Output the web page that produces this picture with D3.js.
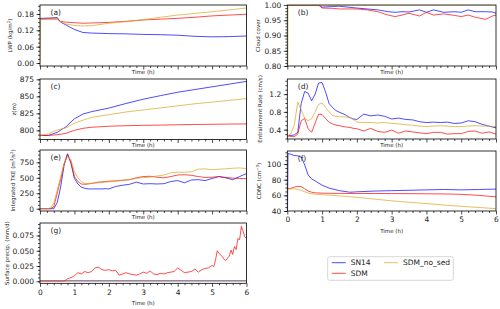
<!DOCTYPE html>
<html>
<head>
<meta charset="utf-8">
<script src="https://cdnjs.cloudflare.com/ajax/libs/d3/7.8.5/d3.min.js"></script>
<style>
body { margin: 0; background: white; }
text { font-family: "DejaVu Sans", sans-serif; }
</style>
</head>
<body>
<script>

// series names + colours (legend order)
var names = ["SN14", "SDM", "SDM_no_sed"];
var colors = ["blue", "red", "goldenrod"];
var hours = [0, 1, 2, 3, 4, 5, 6];

// (a) liquid water path
var lwp_t     = [0, 0.02, 0.25, 0.5, 0.6, 0.75, 1, 1.25, 1.5, 2, 2.5, 3, 3.5, 4, 4.5, 5, 5.5, 6];
var lwp_sn14  = [0.164, 0.164, 0.165, 0.167, 0.150, 0.140, 0.123, 0.112, 0.110, 0.108, 0.107, 0.105, 0.104, 0.102, 0.098, 0.096, 0.097, 0.099];
var lwp_sdm   = [0.161, 0.161, 0.162, 0.162, 0.153, 0.150, 0.148, 0.146, 0.147, 0.149, 0.153, 0.158, 0.161, 0.164, 0.168, 0.173, 0.176, 0.179];
var lwp_nosed = [0, 0.160, 0.160, 0.160, 0.152, 0.143, 0.138, 0.136, 0.137, 0.146, 0.152, 0.159, 0.168, 0.176, 0.182, 0.188, 0.195, 0.202];

// (b) cloud cover
var cc_t     = [0, 0.02, 0.5, 0.9, 1, 1.3, 1.5, 2, 2.3, 2.6, 2.9, 3.1, 3.3, 3.5, 3.8, 4, 4.2, 4.5, 4.8, 5, 5.2, 5.4, 5.7, 5.9, 6];
var cc_sn14  = [1.0, 1.0, 1.0, 1.0, 0.993, 0.995, 0.996, 0.990, 0.987, 0.984, 0.978, 0.976, 0.978, 0.977, 0.984, 0.976, 0.984, 0.976, 0.978, 0.976, 0.984, 0.978, 0.978, 0.977, 0.973];
var cc_sdm   = [1.0, 1.0, 1.0, 1.0, 0.990, 0.989, 0.987, 0.987, 0.984, 0.978, 0.967, 0.962, 0.967, 0.973, 0.964, 0.976, 0.967, 0.971, 0.966, 0.962, 0.967, 0.960, 0.953, 0.964, 0.967];
var cc_nosed = [0, 0.999, 0.998, 0.998, 1.0, 1.0, 1.0, 1.0, 1.0, 1.0, 1.0, 1.0, 1.0, 1.0, 1.0, 1.0, 1.0, 1.0, 1.0, 1.0, 1.0, 1.0, 1.0, 1.0, 1.0];

// (c) inversion height
var z_t     = [0, 0.25, 0.5, 0.75, 1, 1.25, 1.5, 2, 2.5, 3, 3.5, 4, 4.5, 5, 5.5, 6];
var z_sn14  = [792.5, 792.5, 797, 805, 817, 824, 827.5, 832.7, 839.5, 845.8, 851, 856, 860, 864, 868, 872];
var z_sdm   = [792.5, 792.5, 793.5, 795.5, 800, 803, 804.5, 806, 806.8, 807.3, 807.7, 808.2, 808.6, 808.9, 809.2, 809.4];
var z_nosed = [792.5, 795, 800.5, 803.5, 810.5, 815, 819, 823, 827, 830, 833, 836, 839, 841.5, 844, 846.7];

// (d) entrainment rate, (e) integrated TKE share one time axis
var ent_t = [0, 0.1, 0.2, 0.3, 0.4, 0.5, 0.6, 0.7, 0.8, 0.9, 1.0, 1.1, 1.2, 1.3, 1.4, 1.5, 1.6, 1.7, 1.8, 1.9, 2.0,
             2.2, 2.4, 2.6, 2.8, 3.0, 3.2, 3.4, 3.6, 3.8, 4.0, 4.2, 4.4, 4.6, 4.8, 5.0, 5.2, 5.4, 5.6, 5.8, 6.0];
var ent_sn14  = [0.26, 0.27, 0.28, 0.34, 0.99, 1.26, 1.22, 1.05, 1.2, 1.45, 1.46, 1.25, 0.99, 0.9, 0.83, 0.79, 0.76, 0.72, 0.67, 0.64, 0.63,
                 0.75, 0.71, 0.73, 0.70, 0.64, 0.66, 0.63, 0.62, 0.58, 0.56, 0.57, 0.56, 0.57, 0.54, 0.55, 0.60, 0.58, 0.52, 0.48, 0.44];
var ent_sdm   = [0.26, 0.25, 0.24, 0.30, 0.60, 0.65, 0.42, 0.34, 0.55, 0.75, 0.74, 0.65, 0.57, 0.53, 0.50, 0.49, 0.47, 0.46, 0.45, 0.43, 0.42,
                 0.37, 0.43, 0.36, 0.34, 0.39, 0.32, 0.37, 0.35, 0.33, 0.31, 0.34, 0.34, 0.30, 0.31, 0.31, 0.36, 0.37, 0.32, 0.35, 0.30];
var ent_nosed = [0.26, 0.30, 0.50, 1.02, 0.85, 0.66, 0.60, 0.65, 0.80, 0.97, 1.00, 0.90, 0.80, 0.72, 0.70, 0.69, 0.69, 0.68, 0.67, 0.63, 0.57,
                 0.56, 0.56, 0.55, 0.56, 0.54, 0.53, 0.51, 0.50, 0.48, 0.47, 0.48, 0.49, 0.48, 0.47, 0.47, 0.48, 0.49, 0.48, 0.48, 0.47];

var tke_sn14  = [0, 0, 0, 0, 0, 100, 350, 700, 890, 730, 490, 400, 350, 330, 320, 320, 320, 320, 320, 325, 320,
                 360, 380, 395, 430, 400, 405, 400, 405, 440, 455, 420, 465, 470, 455, 490, 520, 500, 470, 520, 570];
var tke_sdm   = [0, 0, 0, 0, 30, 250, 470, 730, 880, 760, 520, 440, 400, 395, 400, 410, 420, 430, 435, 440, 445,
                 450, 460, 470, 500, 520, 525, 510, 500, 520, 545, 550, 540, 520, 505, 510, 520, 505, 495, 490, 485];
var tke_nosed = [0, 0, 0, 10, 90, 300, 520, 730, 840, 790, 600, 500, 440, 410, 405, 410, 415, 420, 425, 430, 435,
                 445, 460, 470, 490, 505, 510, 530, 545, 580, 590, 590, 600, 640, 645, 630, 640, 645, 655, 660, 650];

// (f) cloud droplet number concentration
var cdnc_t     = [0, 0.02, 0.1, 0.2, 0.3, 0.4, 0.5, 0.6, 0.7, 0.8, 1.0, 1.2, 1.5, 1.8, 2, 2.5, 3, 3.5, 4, 4.5, 5, 5.5, 6];
var cdnc_sn14  = [0, 113.5, 112.5, 111, 110.5, 109, 99, 86, 81, 78.5, 73, 69.3, 66, 64, 64.5, 65.5, 66, 66.5, 67, 67.5, 67, 67.5, 68];
var cdnc_sdm   = [68.5, 68.5, 69, 70.5, 71.5, 71, 68.5, 65.5, 64, 63.2, 62.8, 62.6, 62.5, 62.4, 62.4, 62.4, 62.3, 62.2, 62, 61.8, 61.3, 60, 58];
var cdnc_nosed = [68, 68, 68.2, 68.5, 67.5, 66.5, 64.5, 63, 62, 61.5, 60.8, 60.2, 59.3, 58.2, 57.5, 55.2, 53, 51.2, 49.5, 47.6, 46, 44.5, 43];

// (g) surface precipitation
var pr_t = [0, 0.1, 0.2, 0.3, 0.4, 0.5, 0.6, 0.7, 0.8, 0.9, 1.0, 1.1, 1.2, 1.3, 1.4, 1.5, 1.6, 1.7, 1.8, 1.9, 2.0,
            2.1, 2.2, 2.3, 2.4, 2.5, 2.6, 2.7, 2.8, 2.9, 3.0, 3.1, 3.2, 3.3, 3.4, 3.5, 3.6, 3.7, 3.8, 3.9, 4.0,
            4.1, 4.2, 4.3, 4.4, 4.5, 4.6, 4.7, 4.8, 4.9, 5.0, 5.05, 5.1, 5.15, 5.2, 5.25, 5.3, 5.35, 5.4, 5.45, 5.5,
            5.55, 5.6, 5.65, 5.7, 5.75, 5.8, 5.85, 5.9, 5.95, 6.0];
var pr_sdm = [0, 0, 0, 0, 0, 0, 0, 0, 0.004, 0.006, 0.009, 0.014, 0.012, 0.016, 0.014, 0.016, 0.022, 0.023, 0.019, 0.018, 0.019,
              0.017, 0.018, 0.010, 0.012, 0.014, 0.012, 0.011, 0.010, 0.012, 0.015, 0.013, 0.017, 0.012, 0.011, 0.013, 0.012, 0.014, 0.015, 0.016, 0.022,
              0.018, 0.014, 0.015, 0.016, 0.020, 0.015, 0.019, 0.021, 0.022, 0.026, 0.024, 0.035, 0.050, 0.046, 0.043, 0.040, 0.036, 0.034, 0.038, 0.041,
              0.051, 0.044, 0.057, 0.052, 0.070, 0.068, 0.090, 0.082, 0.073, 0.070];
var pr_zero_t = [0, 6];
var pr_sn14   = [0.0008, 0.0008];
var pr_nosed  = [0, 0];


var svg = d3.select("body").append("svg")
    .attr("width", 500)
    .attr("height", 309);

// panel layout
var panels = [
    {id: "a", x0: 40, x1: 246.5, y0: 5, y1: 66, ydom: [-0.011, 0.213], yticks: [0, 0.06, 0.12, 0.18], ystep: 0.015, fmt: ".2f",
     label: [["LWP (kg/m"], ["2", true], [")"]], lx: 9.5, xlab: false,
     series: [[lwp_t, lwp_sn14], [lwp_t, lwp_sdm], [lwp_t, lwp_nosed]]},
    {id: "b", x0: 287.3, x1: 496, y0: 5, y1: 66, ydom: [0.8, 1.0], yticks: [0.8, 0.85, 0.9, 0.95, 1.0], ystep: 0.01, fmt: ".2f",
     label: [["Cloud cover"]], lx: 257.5, xlab: false,
     series: [[cc_t, cc_sn14], [cc_t, cc_sdm], [cc_t, cc_nosed]]},
    {id: "c", x0: 40, x1: 246.5, y0: 79, y1: 139.5, ydom: [786.5, 875.5], yticks: [800, 825, 850, 875], ystep: 6.25, fmt: "d",
     label: [["z(m)"]], lx: 13.5, xlab: false,
     series: [[z_t, z_sn14], [z_t, z_sdm], [z_t, z_nosed]]},
    {id: "d", x0: 287.3, x1: 496, y0: 79, y1: 139, ydom: [0.19, 1.54], yticks: [0.4, 0.8, 1.2], ystep: 0.1, fmt: ".1f",
     label: [["Entrainment Rate (cm/s)"]], lx: 260, xlab: false,
     series: [[ent_t, ent_sn14], [ent_t, ent_sdm], [ent_t, ent_nosed]]},
    {id: "e", x0: 40, x1: 246.5, y0: 150, y1: 211, ydom: [-37, 950], yticks: [0, 250, 500, 750], ystep: 62.5, fmt: "d",
     label: [["Integrated TKE (m"], ["3", true], ["/s"], ["2", true], [")"]], lx: 13, xlab: false,
     series: [[ent_t, tke_sn14], [ent_t, tke_sdm], [ent_t, tke_nosed]]},
    {id: "f", x0: 287.3, x1: 496, y0: 151, y1: 211, ydom: [40, 116.7], yticks: [40, 60, 80, 100], ystep: 5, fmt: "d",
     label: [["CDNC (cm"], ["\u22123", true], [")"]], lx: 258.5, xlab: true,
     series: [[cdnc_t, cdnc_sn14], [cdnc_t, cdnc_sdm], [cdnc_t, cdnc_nosed]]},
    {id: "g", x0: 40, x1: 246.5, y0: 223, y1: 283.3, ydom: [-0.0033, 0.0954], yticks: [0, 0.025, 0.05, 0.075], ystep: 0.00625, fmt: ".3f",
     label: [["Surface precip. (mm/d)"]], lx: 7, xlab: true,
     series: [[pr_zero_t, pr_sn14], [pr_t, pr_sdm], [pr_zero_t, pr_nosed]]}
];

panels.forEach(make_panel);
make_legend();


function make_panel(p){

    var x = d3.scaleLinear().domain([0, 6]).range([p.x0, p.x1]);
    var y = d3.scaleLinear().domain(p.ydom).range([p.y1, p.y0]);
    var g = svg.append("g");

    // clip so lines stay inside the box
    svg.append("clipPath").attr("id", "clip_" + p.id)
        .append("rect")
        .attr("x", p.x0).attr("y", p.y0)
        .attr("width", p.x1 - p.x0).attr("height", p.y1 - p.y0);

    var line = d3.line()
        .x(function(d) { return x(d[0]); })
        .y(function(d) { return y(d[1]); });

    // lines
    for (var i = 0; i < p.series.length; i++){
        var pts = d3.zip(p.series[i][0], p.series[i][1]);
        g.append("path")
            .datum(pts)
            .attr("clip-path", "url(#clip_" + p.id + ")")
            .attr("d", line)
            .attr("fill", "none")
            .attr("stroke", colors[i])
            .attr("stroke-opacity", 0.7)
            .attr("stroke-width", 1);
    }

    // minor tick positions
    var xminor = d3.range(0, 6.001, 0.2).filter(function(v) { return Math.abs(v - Math.round(v)) > 0.01; });
    var ystart = Math.ceil(p.ydom[0] / p.ystep) * p.ystep;
    var yminor = d3.range(ystart, p.ydom[1], p.ystep);

    // x axis
    var xaxis = d3.axisBottom(x).tickValues(hours).tickSize(3.5).tickPadding(2.5).tickSizeOuter(0)
        .tickFormat(p.xlab ? d3.format("d") : "");
    var xg = g.append("g").attr("transform", "translate(0," + p.y1 + ")").call(xaxis);
    var xm = g.append("g").attr("transform", "translate(0," + p.y1 + ")")
        .call(d3.axisBottom(x).tickValues(xminor).tickSize(2).tickFormat("").tickSizeOuter(0));

    // y axis
    var yaxis = d3.axisLeft(y).tickValues(p.yticks).tickSize(3.5).tickPadding(2.5).tickSizeOuter(0)
        .tickFormat(d3.format(p.fmt));
    var yg = g.append("g").attr("transform", "translate(" + p.x0 + ",0)").call(yaxis);
    var ym = g.append("g").attr("transform", "translate(" + p.x0 + ",0)")
        .call(d3.axisLeft(y).tickValues(yminor).tickSize(2).tickFormat("").tickSizeOuter(0));

    [xg, xm, yg, ym].forEach(function(a){
        a.select(".domain").remove();
        a.selectAll("line").attr("stroke", "#000").attr("stroke-width", 0.7);
        a.selectAll("text").attr("font-size", "7.5px").attr("fill", "#222")
            .attr("font-family", "DejaVu Sans");
    });

    // frame
    g.append("rect")
        .attr("x", p.x0).attr("y", p.y0)
        .attr("width", p.x1 - p.x0).attr("height", p.y1 - p.y0)
        .attr("fill", "none").attr("stroke", "#000").attr("stroke-width", 0.8);

    // x label
    g.append("text")
        .text("Time (h)")
        .attr("x", (p.x0 + p.x1) / 2)
        .attr("y", p.y1 + (p.xlab ? 21.5 : 7.7))
        .attr("font-size", "5.5px").attr("fill", "#222").attr("text-anchor", "middle");

    // y label
    var yl = g.append("text")
        .attr("transform", "translate(" + (p.lx + 2) + "," + ((p.y0 + p.y1) / 2) + ") rotate(-90)")
        .attr("font-size", "5.5px").attr("fill", "#222").attr("text-anchor", "middle");
    p.label.forEach(function(part){
        var ts = yl.append("tspan").text(part[0]);
        if (part[1]) ts.attr("baseline-shift", "super").attr("font-size", "4px");
    });

    // panel letter
    g.append("text")
        .text("(" + p.id + ")")
        .attr("x", p.x0 + 10.5)
        .attr("y", p.y0 + 9.5)
        .attr("font-size", "7.5px").attr("fill", "#222");
}


function make_legend(){
    var lg = svg.append("g");
    lg.append("rect")
        .attr("x", 327.7).attr("y", 256.7).attr("width", 125.6).attr("height", 23.6)
        .attr("rx", 2).attr("fill", "white").attr("stroke", "#ccc").attr("stroke-width", 0.8);

    // matplotlib fills columns first: SN14, SDM | SDM_no_sed
    var spots = [[331.7, 262.7], [331.7, 273.3], [384, 262.7]];
    for (var i = 0; i < names.length; i++){
        lg.append("line")
            .attr("x1", spots[i][0]).attr("x2", spots[i][0] + 14)
            .attr("y1", spots[i][1]).attr("y2", spots[i][1])
            .attr("stroke", colors[i]).attr("stroke-opacity", 0.7).attr("stroke-width", 1);
        lg.append("text")
            .text(names[i])
            .attr("x", spots[i][0] + 19)
            .attr("y", spots[i][1] + 2.7)
            .attr("font-size", "7.5px").attr("fill", "#222");
    }
}

</script>
</body>
</html>
